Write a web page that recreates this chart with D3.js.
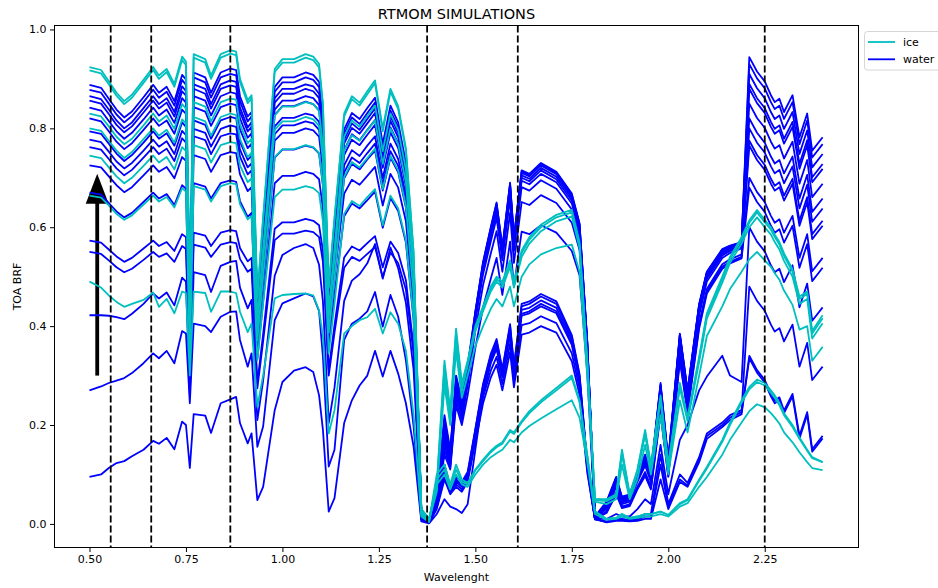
<!DOCTYPE html>
<html><head><meta charset="utf-8">
<script src="https://cdn.jsdelivr.net/npm/d3@7"></script>
<style>
body{margin:0;background:#fff}
text{font-family:"DejaVu Sans",sans-serif;fill:#000}
</style>
</head><body>
<svg id="chart" width="938" height="588"></svg>
<script>
// ---- data ----
const wavelength = [0.50,0.53,0.55,0.57,0.59,0.61,0.64,0.665,0.68,0.70,0.72,0.74,0.75,0.76,0.77,0.80,0.815,0.84,0.865,0.88,0.89,0.91,0.92,0.935,0.95,0.98,1.00,1.03,1.06,1.08,1.095,1.105,1.12,1.135,1.16,1.18,1.20,1.22,1.24,1.26,1.28,1.30,1.32,1.34,
 1.36,1.38,1.40,1.42,1.435,1.45,1.465,1.48,1.50,1.52,1.54,1.555,1.57,1.59,1.60,1.62,1.64,1.67,1.71,1.75,1.77,1.79,1.81,
 1.84,1.865,1.88,1.90,1.92,1.94,1.955,1.98,2.00,2.03,2.05,2.08,2.10,2.14,2.16,2.19,2.21,2.23,2.25,2.266,2.276,2.288,2.30,2.322,2.34,2.36,2.373,2.40];

const ice1 = [.924,.918,.895,.872,.855,.868,.898,.924,.907,.92,.89,.945,.935,.47,.95,.94,.907,.95,.958,.955,.90,.857,.867,.46,.62,.92,.94,.94,.95,.945,.93,.85,.48,.62,.83,.865,.852,.875,.897,.80,.88,.845,.76,.55,
 .03,.01,.08,.33,.23,.395,.285,.33,.40,.44,.48,.50,.49,.533,.49,.553,.58,.605,.625,.635,.57,.33,.05,
 .05,.06,.15,.06,.11,.19,.12,.26,.12,.285,.216,.338,.426,.50,.54,.58,.614,.635,.615,.60,.585,.57,.547,.515,.46,.47,.39,.422];
const ice2 = [.917,.911,.889,.866,.849,.862,.892,.918,.90,.914,.884,.938,.928,.467,.943,.933,.90,.943,.951,.948,.894,.851,.861,.457,.616,.914,.933,.933,.943,.938,.923,.844,.477,.616,.824,.859,.846,.869,.891,.794,.874,.839,.755,.546,
 .03,.01,.075,.32,.22,.385,.28,.325,.395,.435,.475,.495,.485,.528,.485,.548,.575,.60,.62,.63,.565,.328,.05,
 .048,.058,.145,.058,.107,.185,.117,.255,.118,.28,.212,.333,.421,.495,.535,.575,.609,.63,.61,.595,.58,.565,.542,.51,.455,.465,.385,.416];
const ice3 = [.83,.824,.804,.783,.768,.779,.806,.83,.814,.826,.799,.849,.84,.422,.853,.844,.814,.853,.86,.858,.808,.77,.779,.413,.557,.826,.844,.844,.853,.849,.835,.763,.431,.557,.783,.816,.803,.825,.846,.754,.83,.797,.717,.519,
 .028,.01,.07,.30,.21,.37,.27,.32,.39,.43,.47,.49,.478,.52,.478,.54,.567,.592,.612,.622,.558,.325,.048,
 .046,.056,.14,.056,.104,.18,.114,.25,.115,.275,.208,.328,.415,.488,.528,.567,.60,.62,.60,.585,.57,.555,.532,.50,.445,.455,.375,.406];
const ice4 = [.80,.795,.775,.755,.74,.752,.778,.80,.785,.797,.771,.818,.81,.407,.823,.814,.785,.823,.83,.827,.779,.742,.751,.398,.537,.797,.814,.814,.823,.818,.805,.736,.416,.537,.755,.786,.775,.796,.816,.728,.80,.768,.691,.50,
 .025,.008,.065,.28,.20,.35,.255,.30,.36,.40,.435,.455,.44,.48,.44,.50,.525,.545,.558,.565,.51,.30,.045,
 .04,.05,.12,.05,.09,.16,.10,.22,.10,.25,.185,.30,.38,.44,.475,.51,.535,.55,.533,.52,.507,.494,.472,.443,.393,.40,.33,.358];
const ice5 = [.745,.74,.721,.703,.689,.70,.724,.745,.731,.742,.717,.762,.754,.378,.766,.758,.731,.766,.772,.77,.725,.691,.699,.371,.50,.742,.758,.758,.766,.762,.75,.685,.387,.50,.702,.732,.721,.74,.759,.677,.744,.715,.643,.465,
 .02,.005,.10,.12,.08,.12,.09,.083,.11,.13,.148,.158,.165,.19,.185,.208,.228,.25,.275,.30,.25,.14,.025,
 .01,.012,.02,.012,.015,.02,.02,.025,.018,.042,.05,.09,.115,.17,.205,.25,.277,.292,.285,.27,.26,.245,.224,.20,.175,.15,.135,.125];
const ice6 = [.664,.66,.644,.627,.615,.624,.646,.664,.652,.661,.64,.679,.672,.338,.683,.676,.652,.683,.689,.687,.647,.616,.623,.331,.446,.661,.676,.676,.683,.679,.669,.611,.345,.446,.627,.653,.643,.661,.677,.604,.664,.638,.574,.415,
 .02,.005,.09,.11,.075,.11,.085,.08,.108,.127,.145,.155,.162,.187,.182,.205,.224,.246,.27,.295,.246,.138,.025,
 .01,.012,.02,.012,.015,.02,.02,.025,.018,.04,.048,.087,.112,.166,.20,.245,.272,.287,.28,.265,.255,.24,.22,.196,.172,.148,.133,.125];
const ice7 = [.49,.478,.462,.449,.439,.445,.453,.468,.439,.455,.426,.47,.467,.30,.47,.467,.429,.47,.47,.467,.429,.388,.405,.237,.30,.456,.463,.465,.466,.462,.432,.38,.183,.23,.385,.40,.412,.418,.435,.385,.428,.405,.35,.22,
 .015,.004,.08,.10,.07,.10,.08,.075,.10,.12,.135,.143,.15,.17,.165,.185,.198,.213,.232,.25,.215,.125,.02,
 .008,.01,.015,.01,.012,.015,.015,.02,.015,.035,.042,.075,.095,.14,.17,.205,.228,.242,.236,.224,.215,.203,.185,.165,.145,.125,.113,.109];

const water1 = [.888,.882,.86,.838,.822,.834,.863,.888,.872,.884,.855,.908,.899,.451,.913,.903,.872,.913,.921,.918,.865,.824,.833,.442,.596,.884,.903,.903,.913,.908,.894,.817,.461,.596,.798,.831,.819,.841,.862,.769,.846,.812,.73,.529,
 .03,.005,.06,.22,.15,.30,.25,.32,.43,.53,.60,.65,.56,.69,.58,.715,.708,.73,.712,.668,.608,.37,.015,
 .045,.095,.055,.06,.105,.14,.105,.285,.13,.385,.27,.445,.51,.556,.563,.57,.944,.915,.895,.867,.853,.86,.833,.867,.782,.83,.755,.782];
const water2 = [.878,.872,.85,.828,.812,.825,.853,.878,.862,.874,.846,.898,.888,.446,.903,.893,.862,.903,.91,.907,.855,.814,.824,.437,.589,.874,.893,.893,.903,.898,.884,.808,.456,.589,.789,.822,.809,.831,.852,.76,.836,.803,.722,.523,
 .028,.005,.058,.21,.145,.295,.245,.315,.428,.528,.598,.648,.558,.688,.578,.713,.706,.728,.71,.666,.606,.369,.015,
 .043,.093,.053,.058,.103,.138,.103,.282,.128,.383,.268,.443,.509,.555,.562,.569,.93,.901,.881,.853,.839,.846,.819,.853,.768,.816,.741,.768];
const water3 = [.865,.859,.838,.816,.80,.812,.841,.865,.849,.861,.833,.885,.875,.44,.889,.88,.849,.889,.897,.894,.842,.802,.812,.431,.58,.861,.88,.88,.889,.885,.87,.796,.449,.58,.777,.81,.797,.819,.84,.749,.824,.791,.711,.515,
 .026,.005,.055,.20,.14,.29,.24,.31,.427,.526,.596,.645,.556,.685,.576,.71,.703,.725,.707,.663,.604,.367,.015,
 .042,.091,.052,.057,.102,.137,.102,.28,.126,.382,.266,.442,.508,.554,.561,.568,.91,.881,.861,.833,.819,.826,.799,.833,.748,.796,.721,.748];
const water4 = [.856,.85,.829,.807,.792,.804,.832,.856,.84,.852,.824,.875,.866,.435,.88,.87,.84,.88,.887,.884,.833,.794,.803,.426,.574,.852,.87,.87,.88,.875,.861,.787,.444,.574,.769,.801,.789,.81,.831,.741,.815,.782,.704,.509,
 .025,.004,.052,.19,.135,.285,.235,.305,.424,.523,.592,.641,.552,.68,.572,.705,.698,.72,.702,.659,.60,.365,.014,
 .04,.09,.05,.055,.10,.135,.10,.277,.123,.38,.264,.44,.507,.553,.56,.567,.89,.861,.841,.813,.799,.806,.779,.813,.728,.776,.701,.728];
const water5 = [.842,.836,.815,.794,.779,.791,.818,.842,.826,.838,.811,.861,.852,.428,.865,.856,.826,.865,.873,.87,.82,.781,.79,.419,.565,.838,.856,.856,.865,.861,.847,.774,.437,.565,.756,.788,.776,.797,.817,.729,.802,.77,.692,.501,
 .024,.004,.05,.18,.13,.28,.23,.30,.421,.519,.587,.636,.548,.675,.568,.70,.693,.715,.697,.654,.595,.362,.014,
 .039,.088,.049,.054,.098,.133,.098,.274,.121,.377,.262,.438,.505,.551,.559,.566,.88,.851,.831,.803,.789,.796,.769,.803,.718,.766,.691,.718];
const water6 = [.82,.814,.794,.773,.758,.77,.797,.82,.805,.816,.789,.838,.829,.416,.843,.834,.805,.843,.85,.847,.798,.76,.769,.408,.55,.827,.845,.845,.854,.849,.836,.764,.432,.557,.746,.777,.766,.787,.807,.72,.792,.76,.683,.495,
 .023,.004,.048,.17,.125,.27,.225,.295,.417,.514,.582,.63,.543,.669,.563,.694,.687,.708,.691,.648,.59,.359,.014,
 .037,.086,.047,.052,.096,.13,.096,.27,.118,.374,.259,.435,.503,.549,.557,.565,.85,.821,.801,.773,.759,.766,.739,.773,.688,.736,.661,.688];
const water7 = [.794,.789,.769,.749,.734,.746,.771,.794,.779,.79,.765,.812,.803,.403,.816,.807,.779,.816,.823,.82,.773,.736,.745,.395,.533,.804,.821,.821,.83,.826,.813,.742,.419,.542,.725,.756,.744,.765,.784,.699,.769,.738,.664,.48,
 .022,.004,.045,.16,.12,.26,.22,.29,.41,.505,.571,.619,.533,.657,.552,.681,.674,.695,.678,.636,.579,.352,.013,
 .035,.083,.045,.05,.093,.127,.093,.265,.115,.37,.255,.432,.50,.546,.555,.563,.82,.791,.771,.743,.729,.736,.709,.743,.658,.706,.631,.658];
const water8 = [.777,.772,.753,.733,.719,.73,.755,.777,.763,.774,.748,.795,.786,.395,.799,.791,.763,.799,.806,.803,.757,.721,.729,.387,.521,.788,.806,.806,.814,.81,.797,.728,.411,.531,.711,.741,.73,.75,.769,.686,.754,.724,.651,.471,
 .02,.004,.042,.15,.115,.25,.21,.28,.392,.483,.547,.592,.51,.629,.528,.651,.645,.665,.649,.609,.554,.337,.013,
 .033,.08,.043,.048,.09,.123,.09,.26,.112,.365,.25,.428,.496,.543,.552,.56,.80,.771,.751,.723,.709,.716,.689,.723,.638,.686,.611,.638];
const water9 = [.762,.757,.738,.719,.705,.716,.741,.762,.748,.759,.734,.78,.771,.388,.784,.776,.748,.784,.79,.788,.743,.707,.715,.38,.512,.775,.791,.791,.80,.796,.783,.716,.404,.522,.699,.728,.717,.737,.755,.674,.741,.711,.64,.463,
 .02,.003,.04,.14,.11,.24,.20,.26,.356,.438,.496,.538,.463,.571,.48,.591,.586,.604,.589,.552,.503,.306,.012,
 .03,.075,.04,.045,.085,.118,.085,.252,.108,.358,.245,.422,.49,.538,.548,.557,.775,.746,.726,.698,.684,.691,.664,.698,.613,.661,.586,.613];
const water10 = [.725,.721,.703,.685,.671,.681,.705,.725,.712,.722,.699,.742,.734,.369,.746,.738,.712,.746,.752,.75,.707,.673,.681,.361,.487,.741,.757,.757,.765,.761,.749,.684,.386,.499,.668,.696,.686,.704,.722,.644,.708,.68,.612,.443,
 .012,.003,.045,.12,.075,.095,.085,.105,.192,.283,.344,.374,.313,.404,.32,.445,.45,.465,.45,.382,.303,.121,.01,
 .025,.065,.035,.04,.075,.105,.075,.235,.10,.34,.232,.405,.475,.525,.535,.545,.765,.736,.716,.688,.674,.681,.654,.688,.603,.651,.576,.603];
const water11 = [.67,.666,.649,.632,.62,.629,.651,.67,.658,.667,.645,.685,.678,.34,.689,.682,.658,.689,.695,.692,.653,.621,.629,.334,.45,.689,.704,.704,.712,.708,.697,.637,.36,.464,.622,.648,.638,.655,.672,.599,.659,.633,.569,.412,
 .01,.003,.04,.11,.07,.09,.08,.10,.19,.28,.34,.37,.31,.40,.317,.44,.445,.46,.445,.378,.30,.12,.01,
 .024,.062,.034,.038,.072,.10,.072,.228,.097,.335,.228,.40,.47,.52,.53,.54,.70,.671,.651,.623,.609,.616,.589,.623,.538,.586,.511,.538];
const water12 = [.573,.569,.555,.541,.53,.538,.557,.573,.562,.57,.552,.586,.58,.30,.589,.583,.562,.589,.594,.592,.558,.531,.538,.285,.384,.597,.61,.61,.617,.613,.604,.552,.312,.402,.539,.561,.553,.568,.582,.519,.571,.548,.493,.357,
 .01,.003,.038,.105,.068,.088,.078,.098,.187,.275,.334,.364,.305,.393,.312,.433,.437,.452,.437,.372,.295,.118,.01,
 .022,.06,.032,.036,.07,.097,.07,.222,.095,.33,.225,.395,.466,.516,.527,.537,.68,.651,.631,.603,.589,.596,.569,.603,.518,.566,.491,.518];
const water13 = [.55,.546,.533,.519,.509,.516,.534,.55,.54,.547,.53,.562,.556,.29,.565,.559,.54,.565,.57,.568,.536,.51,.516,.274,.369,.574,.587,.587,.593,.59,.58,.53,.30,.387,.518,.54,.532,.546,.56,.499,.549,.527,.474,.343,
 .01,.003,.036,.10,.066,.085,.075,.095,.184,.271,.329,.358,.30,.387,.307,.425,.43,.445,.43,.366,.29,.116,.01,
 .01,.02,.015,.015,.03,.05,.04,.16,.06,.17,.20,.27,.298,.34,.30,.287,.60,.571,.551,.523,.509,.516,.489,.523,.438,.486,.411,.438];
const water14 = [.422,.422,.421,.418,.414,.425,.445,.466,.456,.468,.442,.498,.49,.26,.509,.503,.469,.522,.53,.532,.478,.436,.453,.21,.29,.502,.544,.558,.566,.558,.524,.45,.204,.276,.451,.492,.505,.527,.566,.496,.559,.517,.447,.311,
 .01,.002,.034,.095,.063,.08,.07,.09,.173,.256,.31,.338,.283,.365,.289,.402,.406,.42,.406,.345,.274,.11,.009,
 .005,.01,.01,.008,.01,.02,.02,.14,.04,.10,.083,.135,.183,.205,.22,.23,.48,.451,.431,.403,.389,.396,.369,.403,.318,.366,.291,.318];
const water15 = [.27,.278,.285,.29,.295,.305,.325,.345,.335,.35,.325,.39,.385,.244,.405,.40,.388,.419,.429,.43,.372,.318,.345,.156,.197,.412,.446,.456,.466,.46,.43,.338,.116,.15,.372,.405,.415,.43,.469,.399,.463,.419,.331,.197,
 .008,.002,.03,.09,.06,.075,.065,.085,.165,.244,.296,.322,.27,.348,.276,.383,.387,.40,.387,.329,.261,.104,.009,
 .004,.008,.008,.006,.008,.015,.015,.12,.035,.09,.078,.13,.178,.20,.215,.226,.34,.311,.291,.263,.249,.256,.229,.263,.178,.226,.151,.178];
const water16 = [.095,.10,.113,.123,.127,.137,.15,.168,.162,.174,.151,.207,.20,.113,.222,.219,.184,.244,.252,.257,.204,.163,.183,.048,.075,.23,.287,.31,.317,.307,.26,.19,.025,.052,.204,.25,.28,.30,.35,.298,.35,.304,.244,.156,
 .005,.001,.02,.05,.035,.03,.022,.04,.15,.26,.325,.354,.297,.383,.303,.421,.426,.44,.426,.362,.287,.115,.01,
 .003,.006,.006,.005,.006,.01,.01,.09,.03,.085,.075,.125,.172,.196,.21,.222,.335,.306,.286,.258,.244,.251,.224,.258,.173,.221,.146,.173];

const iceSeries = [ice1, ice2, ice3, ice4, ice5, ice6, ice7];
const waterSeries = [water1, water2, water3, water4, water5, water6, water7, water8,
  water9, water10, water11, water12, water13, water14, water15, water16];
const bandLines = [0.555, 0.66, 0.865, 1.375, 1.61, 2.25];
const arrowX = 0.52, arrowFrom = 0.30, arrowTo = 0.708;
const xTicks = [0.50, 0.75, 1.00, 1.25, 1.50, 1.75, 2.00, 2.25];
const yTicks = [0.0, 0.2, 0.4, 0.6, 0.8, 1.0];
const legendLabels = ["ice", "water"];
const colors = {ice: "#00bfbf", water: "#0000ff"};

// ---- drawing ----
const svg = d3.select("#chart");
const L = 54.5, R = 858.5, T = 25.5, B = 547.5;
const x = d3.scaleLinear().domain([0.4093, 2.493]).range([L, R]);
const y = d3.scaleLinear().domain([-0.0477, 1.008]).range([B, T]);

svg.append("defs").append("clipPath").attr("id", "clip")
  .append("rect").attr("x", L).attr("y", T).attr("width", R - L).attr("height", B - T);

const plot = svg.append("g").attr("clip-path", "url(#clip)");

// arrow
const ax = x(arrowX), headLen = 30, headHalf = 11.5;
plot.append("rect").attr("x", ax - 1.9).attr("width", 3.8)
  .attr("y", y(arrowTo) + headLen - 1).attr("height", y(arrowFrom) - y(arrowTo) - headLen + 1)
  .attr("fill", "#000");
plot.append("path")
  .attr("d", `M${ax},${y(arrowTo)} L${ax + headHalf},${y(arrowTo) + headLen} L${ax - headHalf},${y(arrowTo) + headLen} Z`)
  .attr("fill", "#000");

const line = d3.line().x((d, i) => x(wavelength[i])).y(d => y(d));

plot.selectAll("path.water").data(waterSeries).join("path")
  .attr("class", "water").attr("d", line)
  .attr("fill", "none").attr("stroke", colors.water).attr("stroke-width", 1.8)
  .attr("stroke-linejoin", "round");
plot.selectAll("path.ice").data(iceSeries).join("path")
  .attr("class", "ice").attr("d", line)
  .attr("fill", "none").attr("stroke", colors.ice).attr("stroke-width", 1.8)
  .attr("stroke-linejoin", "round");

// dashed band lines
plot.selectAll("line.band").data(bandLines).join("line")
  .attr("class", "band")
  .attr("x1", d => x(d)).attr("x2", d => x(d)).attr("y1", T).attr("y2", B)
  .attr("stroke", "#000").attr("stroke-width", 1.8).attr("stroke-dasharray", "7,3");

// axes
const xAxis = d3.axisBottom(x).tickValues(xTicks).tickFormat(d3.format(".2f"))
  .tickSize(4.5).tickPadding(3.5).tickSizeOuter(0);
const gx = svg.append("g").attr("transform", `translate(0,${B})`).call(xAxis);
const yAxis = d3.axisLeft(y).tickValues(yTicks).tickFormat(d3.format(".1f"))
  .tickSize(4.5).tickPadding(3.5).tickSizeOuter(0);
const gy = svg.append("g").attr("transform", `translate(${L},0)`).call(yAxis);
[gx, gy].forEach(g => {
  g.select(".domain").remove();
  g.selectAll("text").attr("font-size", 11).attr("font-family", "DejaVu Sans, sans-serif").attr("fill", "#000");
  g.selectAll("line").attr("stroke", "#000").attr("stroke-width", 1);
});

// frame
svg.append("rect").attr("x", L).attr("y", T).attr("width", R - L).attr("height", B - T)
  .attr("fill", "none").attr("stroke", "#000").attr("stroke-width", 1);

// labels
svg.append("text").attr("x", (L + R) / 2).attr("y", 19).attr("text-anchor", "middle")
  .attr("font-size", 14.5).text("RTMOM SIMULATIONS");
svg.append("text").attr("x", (L + R) / 2).attr("y", 581).attr("text-anchor", "middle")
  .attr("font-size", 11).text("Wavelenght");
svg.append("text").attr("transform", `translate(21,${(T + B) / 2}) rotate(-90)`)
  .attr("text-anchor", "middle").attr("font-size", 11).text("TOA BRF");

// legend
const lg = svg.append("g");
lg.append("rect").attr("x", 864.5).attr("y", 31.5).attr("width", 80).attr("height", 38.5)
  .attr("rx", 3).attr("fill", "#fff").attr("fill-opacity", 0.8)
  .attr("stroke", "#d6d6d6").attr("stroke-width", 1);
legendLabels.forEach((lab, i) => {
  const yy = 42 + i * 17.3;
  lg.append("line").attr("x1", 868).attr("x2", 895).attr("y1", yy).attr("y2", yy)
    .attr("stroke", colors[lab]).attr("stroke-width", 1.8);
  lg.append("text").attr("x", 903).attr("y", yy + 4).attr("font-size", 11).text(lab);
});
</script>
</body></html>
